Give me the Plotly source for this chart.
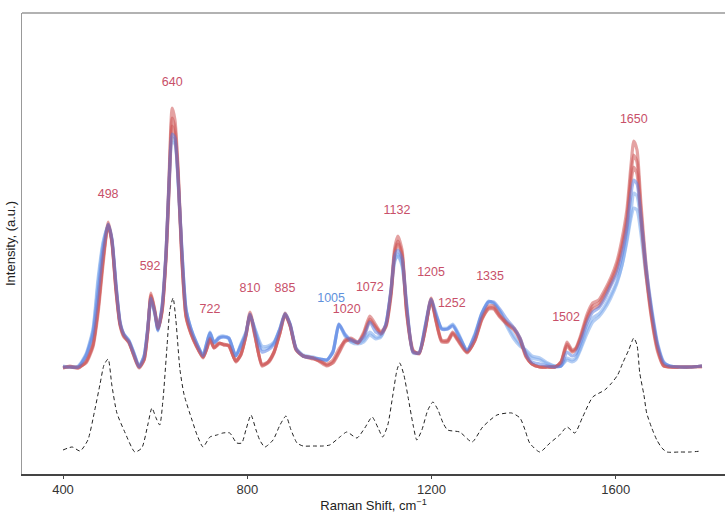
import plotly.graph_objects as go

# Raman shift grid (cm^-1)
wn = [400, 415, 433, 450, 465, 476, 487, 498, 506, 515, 524, 532, 543, 554, 565, 576, 584, 591, 600, 606,
      615, 624, 630, 637, 643, 650, 658, 667, 678, 689, 704, 712, 719, 728, 739, 749, 760, 775, 786, 797,
      806, 817, 832, 845, 858, 871, 882, 893, 906, 921, 943, 958, 973, 986, 999, 1012, 1025, 1040, 1053, 1066,
      1079, 1090, 1101, 1112, 1120, 1127, 1136, 1146, 1160, 1173, 1186, 1199, 1209, 1222, 1235, 1246, 1259, 1277, 1294, 1309,
      1324, 1335, 1348, 1363, 1379, 1392, 1405, 1418, 1435, 1452, 1468, 1481, 1494, 1505, 1513, 1524, 1537, 1550, 1563, 1576,
      1589, 1602, 1613, 1624, 1633, 1639, 1646, 1654, 1665, 1678, 1691, 1704, 1717, 1739, 1761, 1787]

red1 = [106, 108, 106, 112, 129, 164, 214, 252, 234, 184, 149, 138, 132, 118, 106, 114, 144, 181, 162, 146,
        164, 224, 294, 366, 354, 304, 219, 159, 141, 129, 116, 126, 136, 126, 131, 129, 129, 112, 119, 139,
        162, 139, 108, 112, 122, 142, 161, 149, 124, 118, 116, 112, 108, 112, 122, 134, 136, 132, 142, 158,
        149, 142, 149, 184, 226, 238, 224, 164, 124, 120, 144, 176, 156, 134, 134, 142, 134, 122, 134, 156,
        168, 168, 159, 152, 146, 136, 119, 110, 107, 107, 107, 112, 132, 124, 126, 139, 159, 171, 174, 184,
        196, 212, 234, 264, 309, 333, 324, 274, 212, 159, 126, 109, 107, 107, 107, 108]

red2 = [107, 107, 107, 111, 127, 160, 210, 250, 233, 186, 150, 139, 131, 119, 107, 114, 142, 179, 161, 145,
        162, 220, 288, 356, 346, 300, 216, 158, 140, 128, 117, 125, 134, 126, 130, 130, 128, 113, 120, 138,
        160, 138, 109, 111, 121, 141, 160, 148, 124, 118, 115, 113, 109, 111, 121, 132, 135, 131, 140, 155,
        147, 141, 148, 180, 222, 233, 220, 162, 123, 121, 143, 175, 155, 133, 133, 141, 133, 122, 133, 154,
        166, 166, 158, 151, 145, 135, 118, 110, 107, 107, 107, 111, 130, 123, 125, 137, 156, 168, 171, 181,
        193, 208, 228, 256, 300, 319, 312, 266, 206, 156, 124, 108, 107, 107, 107, 107]

red3 = [106, 107, 106, 113, 130, 166, 216, 249, 232, 183, 148, 137, 132, 118, 107, 115, 143, 178, 160, 146,
        163, 218, 280, 348, 338, 296, 214, 157, 140, 129, 117, 125, 135, 127, 131, 129, 128, 113, 119, 138,
        159, 137, 110, 112, 122, 141, 159, 148, 125, 118, 116, 113, 110, 114, 125, 133, 134, 131, 139, 153,
        146, 140, 147, 178, 220, 230, 218, 160, 122, 121, 144, 174, 154, 132, 132, 140, 132, 121, 134, 155,
        165, 165, 157, 150, 144, 134, 117, 110, 107, 107, 107, 112, 128, 122, 124, 136, 154, 165, 168, 178,
        190, 204, 224, 250, 292, 307, 300, 258, 202, 154, 122, 108, 107, 107, 107, 108]

blue1 = [107, 107, 107, 118, 140, 180, 225, 250, 236, 190, 152, 140, 133, 120, 107, 118, 146, 176, 160, 144,
         168, 225, 290, 340, 336, 295, 225, 165, 145, 132, 118, 130, 141, 131, 136, 137, 136, 118, 128, 140,
         160, 142, 122, 124, 130, 145, 160, 150, 125, 118, 116, 115, 114, 122, 150, 140, 134, 132, 137, 152,
         142, 140, 150, 185, 218, 224, 215, 170, 122, 121, 148, 175, 162, 145, 145, 148, 138, 124, 138, 160,
         172, 172, 165, 155, 146, 136, 120, 112, 110, 108, 107, 108, 122, 118, 120, 132, 150, 162, 166, 175,
         188, 200, 218, 245, 280, 294, 290, 260, 210, 165, 130, 112, 108, 107, 107, 108]

blue2 = [107, 107, 108, 120, 145, 195, 232, 248, 234, 188, 150, 139, 133, 121, 108, 118, 146, 175, 158, 143,
         166, 222, 285, 332, 330, 290, 222, 164, 144, 131, 119, 131, 142, 132, 137, 138, 136, 118, 130, 142,
         158, 145, 128, 128, 132, 146, 161, 150, 126, 119, 117, 115, 114, 123, 150, 138, 132, 130, 132, 139,
         135, 137, 150, 182, 212, 220, 210, 168, 122, 122, 147, 173, 160, 146, 146, 150, 140, 124, 140, 161,
         173, 170, 162, 148, 135, 128, 124, 118, 116, 111, 108, 108, 114, 112, 114, 125, 140, 152, 157, 165,
         176, 190, 208, 235, 262, 281, 278, 252, 205, 162, 128, 111, 108, 107, 107, 108]

blue3 = [108, 107, 107, 119, 143, 190, 230, 249, 235, 189, 151, 140, 134, 121, 108, 117, 145, 175, 159, 144,
         167, 224, 288, 336, 333, 292, 224, 165, 145, 132, 119, 131, 141, 131, 136, 137, 135, 118, 129, 141,
         159, 144, 125, 126, 131, 145, 160, 149, 125, 118, 116, 115, 114, 122, 149, 139, 133, 131, 134, 142,
         137, 138, 150, 183, 214, 218, 208, 166, 121, 121, 146, 172, 159, 145, 145, 149, 139, 123, 139, 160,
         172, 171, 163, 150, 138, 130, 122, 116, 114, 110, 108, 108, 116, 114, 116, 127, 144, 156, 160, 168,
         179, 192, 208, 232, 256, 266, 264, 242, 200, 160, 127, 111, 108, 107, 107, 108]

# Difference spectrum (dashed)
diff_wn = [400, 420, 437, 454, 469, 480, 489, 498, 506, 517, 535, 556, 571, 584, 593, 602, 610, 617, 626, 632,
           639, 645, 654, 663, 680, 691, 704, 719, 734, 747, 762, 777, 788, 797, 808, 819, 827, 838, 856, 871,
           884, 895, 908, 921, 943, 964, 979, 1001, 1016, 1038, 1055, 1071, 1084, 1094, 1105, 1116, 1125, 1131, 1140, 1149,
           1160, 1168, 1179, 1192, 1203, 1214, 1225, 1235, 1261, 1288, 1311, 1342, 1374, 1392, 1403, 1413, 1435, 1457, 1478, 1494,
           1511, 1528, 1550, 1576, 1591, 1604, 1615, 1628, 1639, 1646, 1652, 1661, 1667, 1678, 1689, 1700, 1711, 1739, 1761, 1787]
diff_int = [24, 27, 23, 34, 64, 89, 109, 115, 89, 61, 41, 22, 26, 49, 66, 56, 49, 74, 129, 164,
            176, 154, 104, 79, 54, 39, 27, 37, 39, 41, 41, 31, 31, 44, 59, 44, 34, 27, 34, 49,
            58, 44, 31, 28, 28, 28, 29, 37, 42, 36, 46, 57, 46, 37, 49, 79, 104, 111, 99, 77,
            49, 34, 44, 64, 72, 64, 51, 44, 42, 32, 47, 59, 61, 56, 44, 31, 22, 31, 39, 47,
            41, 57, 77, 84, 91, 99, 111, 124, 136, 129, 101, 79, 61, 46, 34, 26, 22, 22, 22, 23]

# Peak annotations: label, position, height, colour group
peak_labels = ["498", "592", "640", "722", "810", "885", "1005", "1020", "1072", "1132", "1205", "1252", "1335", "1502", "1650"]
peak_x = [498, 589, 637, 719, 806, 882, 982, 1016, 1066, 1125, 1199, 1244, 1327, 1492, 1639]
peak_y = [279, 207, 391, 164, 185, 185, 175, 164, 186, 263, 201, 170, 197, 156, 354]
peak_group = ["r", "r", "r", "r", "r", "r", "b", "r", "r", "r", "r", "r", "r", "r", "r"]

RED = "rgba(205,85,85,0.55)"
RED_TXT = "rgb(200,80,105)"
BLUE_TXT = "rgb(95,145,220)"
FONT = "Liberation Sans, Arial, sans-serif"

fig = go.Figure()
for ys in [blue2, blue3]:
    fig.add_trace(go.Scatter(x=wn, y=ys, mode="lines",
                             line=dict(color="rgba(120,165,235,0.55)", width=3.2, shape="spline", smoothing=0.6),
                             hoverinfo="skip", showlegend=False))
for ys in [red1, red2, red3]:
    fig.add_trace(go.Scatter(x=wn, y=ys, mode="lines",
                             line=dict(color=RED, width=3.2, shape="spline", smoothing=0.6),
                             hoverinfo="skip", showlegend=False))
fig.add_trace(go.Scatter(x=wn, y=blue1, mode="lines",
                         line=dict(color="rgba(80,120,225,0.5)", width=3.2, shape="spline", smoothing=0.6),
                         hoverinfo="skip", showlegend=False))
fig.add_trace(go.Scatter(x=diff_wn, y=diff_int, mode="lines",
                         line=dict(color="#222", width=1, dash="4px,3px", shape="spline", smoothing=0.6),
                         hoverinfo="skip", showlegend=False))

fig.add_trace(go.Scatter(x=peak_x, y=peak_y, mode="text", text=peak_labels,
                         textfont=dict(size=12.5, family=FONT,
                                       color=[RED_TXT if g == "r" else BLUE_TXT for g in peak_group]),
                         hoverinfo="skip", showlegend=False))

fig.update_layout(
    width=725, height=513,
    margin=dict(l=22, r=0, t=13, b=39),
    paper_bgcolor="white", plot_bgcolor="white",
    font=dict(family=FONT, color="#222", size=13),
    xaxis=dict(range=[311, 1837], tickvals=[400, 800, 1200, 1600], ticks="outside", ticklen=3,
               tickcolor="#444", showgrid=False, zeroline=False, showline=True, linecolor="#444",
               linewidth=1.5, tickfont=dict(size=13, color="#333"),
               title=dict(text="Raman Shift, cm<sup>−1</sup>", font=dict(size=13, color="#222"), standoff=3),
               automargin=False),
    yaxis=dict(range=[0, 461], showticklabels=False, ticks="", showgrid=False, zeroline=False,
               showline=True, linecolor="#999", linewidth=1,
               title=dict(text="Intensity, (a.u.)", font=dict(size=13, color="#222"), standoff=2),
               automargin=False),
    shapes=[dict(type="line", xref="paper", yref="paper", x0=0, x1=1, y0=1, y1=1,
                 line=dict(color="#999", width=1.5))],
)

fig.write_html("out.html")
